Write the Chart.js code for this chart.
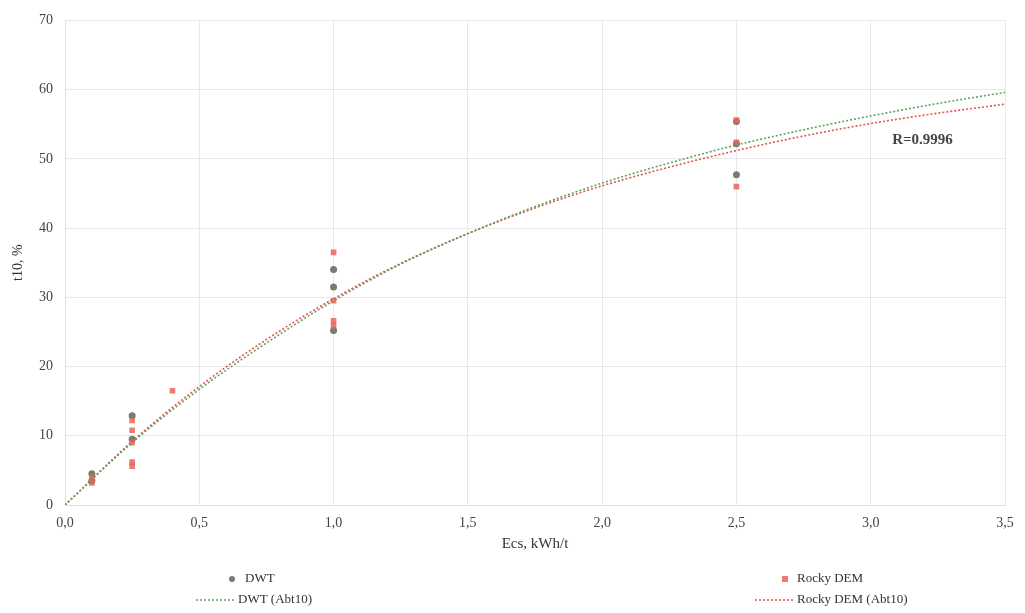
<!DOCTYPE html>
<html>
<head>
<meta charset="utf-8">
<script src="https://cdn.jsdelivr.net/npm/chart.js@4"></script>
<style>
  html, body { margin: 0; padding: 0; background: #fff; }
  #wrap { width: 1025px; height: 613px; position: relative; }
</style>
</head>
<body>
<div id="wrap"><canvas id="t10Chart" width="1025" height="613"></canvas></div>
<script>
// Points mesurés (Ecs en kWh/t, t10 en %)
const dwtEcs = [0.1, 0.1, 0.25, 0.25, 1.0, 1.0, 1.0, 2.5, 2.5, 2.5];
const dwtT10 = [4.5, 3.5, 12.9, 9.5, 34.0, 31.5, 25.2, 55.4, 52.2, 47.7];
const rockyEcs = [0.1, 0.1, 0.25, 0.25, 0.25, 0.25, 0.25, 0.4, 1.0, 1.0, 1.0, 1.0, 2.5, 2.5, 2.5];
const rockyT10 = [4.0, 3.2, 12.2, 10.8, 9.0, 6.2, 5.6, 16.5, 36.5, 29.5, 26.6, 25.9, 55.6, 52.4, 46.0];

// Courbes de tendance (Abt10)
const fitEcs = [0, 0.25, 0.5, 0.75, 1.0, 1.25, 1.5, 1.75, 2.0, 2.25, 2.5, 2.75, 3.0, 3.25, 3.5];
const dwtFit = [0, 9.0, 16.7, 23.4, 29.5, 34.8, 39.2, 43.1, 46.5, 49.4, 52.0, 54.2, 56.2, 58.0, 59.6];
const rockyFit = [0, 9.2, 17.1, 23.9, 29.8, 34.9, 39.2, 42.9, 46.1, 48.8, 51.2, 53.3, 55.1, 56.6, 57.9];

const xTicks = [0, 0.5, 1.0, 1.5, 2.0, 2.5, 3.0, 3.5];
const yTicks = [0, 10, 20, 30, 40, 50, 60, 70];
const rLabel = 'R=0.9996';

const serif = '"Liberation Serif", "DejaVu Serif", serif';
const dwtColor = 'rgba(100,115,92,0.9)';
const rockyColor = 'rgba(232,100,90,0.85)';
const dwtLine = '#5fa35f';
const rockyLine = '#e0574d';

function toPoints(xs, ys) {
    return xs.map((x, i) => ({ x: x, y: ys[i] }));
}

// Annotation R et légende sur deux colonnes
const extras = {
    id: 'extras',
    afterDraw(chart) {
        const ctx = chart.ctx;
        const xs = chart.scales.x, ys = chart.scales.y;
        ctx.save();
        ctx.font = 'bold 15px ' + serif;
        ctx.fillStyle = '#444';
        ctx.textBaseline = 'middle';
        ctx.fillText(rLabel, xs.getPixelForValue(3.08), ys.getPixelForValue(52.7));

        ctx.font = '13px ' + serif;
        const rows = [579, 600];
        const cols = [
            { mk: 232, line: [196, 236], text: 245, text2: 238, c: dwtColor, lc: dwtLine, name: 'DWT', name2: 'DWT (Abt10)', style: 'circle' },
            { mk: 785, line: [755, 795], text: 797, text2: 797, c: rockyColor, lc: rockyLine, name: 'Rocky DEM', name2: 'Rocky DEM (Abt10)', style: 'rect' }
        ];
        cols.forEach(col => {
            ctx.fillStyle = col.c;
            if (col.style === 'rect') {
                ctx.fillRect(col.mk - 3, rows[0] - 3, 6, 6);
            } else {
                ctx.beginPath();
                ctx.arc(col.mk, rows[0], 3, 0, Math.PI * 2);
                ctx.fill();
            }
            ctx.fillStyle = '#333';
            ctx.fillText(col.name, col.text, rows[0]);
            ctx.strokeStyle = col.lc;
            ctx.lineWidth = 1.5;
            ctx.setLineDash([2, 2]);
            ctx.beginPath();
            ctx.moveTo(col.line[0], rows[1]);
            ctx.lineTo(col.line[1], rows[1]);
            ctx.stroke();
            ctx.setLineDash([]);
            ctx.fillText(col.name2, col.text2, rows[1]);
        });
        ctx.restore();
    }
};

function createT10Chart() {
    const ctx = document.getElementById('t10Chart').getContext('2d');
    new Chart(ctx, {
        type: 'scatter',
        data: {
            datasets: [
                {
                    label: 'DWT (Abt10)',
                    data: toPoints(fitEcs, dwtFit),
                    showLine: true,
                    borderColor: dwtLine,
                    borderWidth: 1.6,
                    borderDash: [2, 2],
                    pointRadius: 0,
                    cubicInterpolationMode: 'monotone',
                    fill: false
                },
                {
                    label: 'Rocky DEM (Abt10)',
                    data: toPoints(fitEcs, rockyFit),
                    showLine: true,
                    borderColor: rockyLine,
                    borderWidth: 1.6,
                    borderDash: [2, 2],
                    pointRadius: 0,
                    cubicInterpolationMode: 'monotone',
                    fill: false
                },
                {
                    label: 'Rocky DEM',
                    data: toPoints(rockyEcs, rockyT10),
                    backgroundColor: rockyColor,
                    borderColor: rockyColor,
                    pointStyle: 'rect',
                    pointRadius: 4,
                    borderWidth: 0
                },
                {
                    label: 'DWT',
                    data: toPoints(dwtEcs, dwtT10),
                    backgroundColor: dwtColor,
                    borderColor: dwtColor,
                    pointStyle: 'circle',
                    pointRadius: 3.5,
                    borderWidth: 0
                }
            ]
        },
        options: {
            responsive: false,
            animation: false,
            layout: { padding: { left: 6, right: 20, top: 19, bottom: 56 } },
            plugins: {
                legend: { display: false },
                tooltip: { enabled: false }
            },
            scales: {
                x: {
                    type: 'linear',
                    min: 0,
                    max: 3.5,
                    afterBuildTicks: s => { s.ticks = xTicks.map(v => ({ value: v })); },
                    afterFit: s => { s.height = 52; },
                    grid: { color: '#e8e8e8', drawTicks: false },
                    border: { color: '#e0e0e0' },
                    ticks: {
                        padding: 10,
                        color: '#444',
                        font: { family: serif, size: 14 },
                        callback: v => v.toFixed(1).replace('.', ',')
                    },
                    title: {
                        display: true,
                        text: 'Ecs, kWh/t',
                        color: '#333',
                        font: { family: serif, size: 15 },
                        padding: { top: 3 }
                    }
                },
                y: {
                    min: 0,
                    max: 70,
                    afterBuildTicks: s => { s.ticks = yTicks.map(v => ({ value: v })); },
                    afterFit: s => { s.width = 59; },
                    grid: { color: '#e8e8e8', drawTicks: false },
                    border: { color: '#e0e0e0' },
                    ticks: {
                        padding: 12,
                        color: '#444',
                        font: { family: serif, size: 14 }
                    },
                    title: {
                        display: true,
                        text: 't10, %',
                        color: '#333',
                        font: { family: serif, size: 14 },
                        padding: { bottom: 0 }
                    }
                }
            }
        },
        plugins: [extras]
    });
}

window.onload = function() {
    createT10Chart();
};
</script>
</body>
</html>
